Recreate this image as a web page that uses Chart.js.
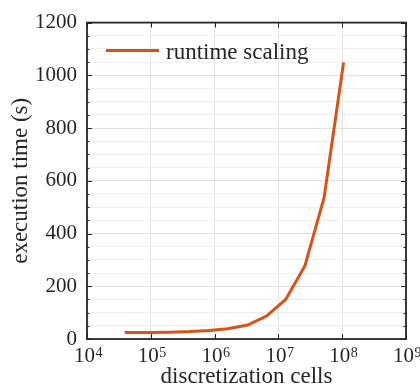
<!DOCTYPE html>
<html>
<head>
<meta charset="utf-8">
<script src="https://cdn.jsdelivr.net/npm/chart.js@4/dist/chart.umd.min.js"></script>
<style>
  html, body { margin: 0; padding: 0; background: #fff; }
  canvas { display: block; }
</style>
</head>
<body>
<canvas id="scalingChart" width="420" height="388"></canvas>
<script>
// data
const cells = [3.9e4, 1e5, 2e5, 4.1e5, 8.2e5, 1.6e6, 3.3e6, 6.5e6, 1.3e7, 2.6e7, 5.2e7, 1.05e8];
const runtime = [25, 25, 26, 28, 32, 39, 53, 87, 150, 277, 536, 1049];
const xTicks = [1e4, 1e5, 1e6, 1e7, 1e8, 1e9];
const yTickLabels = [0, 200, 400, 600, 800, 1000, 1200];

const FONT = "'Liberation Serif', 'Times New Roman', serif";
const INK = '#262626';
const LINE = '#D95319';

const points = cells.map((c, i) => ({ x: c, y: runtime[i] }));

// box, inward ticks, 10^n labels and the legend
const framePlugin = {
    id: 'frame',
    afterDraw(chart) {
        const { ctx, chartArea: a, scales } = chart;
        const xs = scales.x, ys = scales.y;
        ctx.save();
        ctx.strokeStyle = INK;

        ctx.lineWidth = 1;
        ctx.beginPath();
        for (let v = 0; v <= 1200; v += 50) {
            const py = Math.round(ys.getPixelForValue(v)) + 0.5;
            const len = v % 200 === 0 ? 5 : 2.5;
            ctx.moveTo(a.left, py); ctx.lineTo(a.left + len, py);
            ctx.moveTo(a.right, py); ctx.lineTo(a.right - len, py);
        }
        xTicks.forEach((v) => {
            const px = Math.round(xs.getPixelForValue(v)) + 0.5;
            ctx.moveTo(px, a.bottom); ctx.lineTo(px, a.bottom - 5);
            ctx.moveTo(px, a.top); ctx.lineTo(px, a.top + 5);
        });
        ctx.stroke();

        ctx.lineWidth = 1.8;
        ctx.strokeRect(a.left, a.top, a.right - a.left, a.bottom - a.top);

        // tick labels with superscript exponent
        ctx.fillStyle = INK;
        ctx.textBaseline = 'alphabetic';
        ctx.textAlign = 'left';
        xTicks.forEach((v) => {
            const px = xs.getPixelForValue(v);
            const exp = String(Math.round(Math.log10(v)));
            ctx.font = '21px ' + FONT;
            const wBase = ctx.measureText('10').width;
            ctx.font = '14px ' + FONT;
            const wExp = ctx.measureText(exp).width;
            const x0 = px - (wBase + wExp) / 2 + 1;
            ctx.font = '21px ' + FONT;
            ctx.fillText('10', x0, a.bottom + 23);
            ctx.font = '14px ' + FONT;
            ctx.fillText(exp, x0 + wBase + 0.5, a.bottom + 18);
        });

        // legend (no box), top-left inside the axes
        const ds = chart.data.datasets[0];
        ctx.strokeStyle = ds.borderColor;
        ctx.lineWidth = 3;
        ctx.beginPath();
        ctx.moveTo(a.left + 19, a.top + 28);
        ctx.lineTo(a.left + 72, a.top + 28);
        ctx.stroke();
        ctx.font = '23px ' + FONT;
        ctx.fillText(ds.label, a.left + 79, a.top + 36);
        ctx.restore();
    }
};

new Chart(document.getElementById('scalingChart'), {
    type: 'line',
    data: {
        datasets: [{
            label: 'runtime scaling',
            data: points,
            borderColor: LINE,
            backgroundColor: LINE,
            borderWidth: 3,
            pointRadius: 0,
            tension: 0
        }]
    },
    options: {
        responsive: false,
        animation: false,
        layout: { padding: { top: 21, right: 14, left: 0, bottom: 0 } },
        plugins: {
            tooltip: { enabled: false },
            legend: { display: false }
        },
        scales: {
            x: {
                type: 'logarithmic',
                min: 1e4,
                max: 1e9,
                afterBuildTicks: (scale) => { scale.ticks = xTicks.map((v) => ({ value: v })); },
                afterFit: (scale) => { scale.height = 49; },
                ticks: { callback: () => '', autoSkip: false },
                grid: { color: '#e3e3e3', drawTicks: false },
                border: { display: false },
                title: {
                    display: true,
                    text: 'discretization cells',
                    color: INK,
                    font: { family: FONT, size: 23, lineHeight: 1 },
                    padding: { top: 0, bottom: 0 }
                }
            },
            y: {
                min: 0,
                max: 1200,
                afterFit: (scale) => { scale.width = 87; },
                ticks: {
                    stepSize: 50,
                    autoSkip: false,
                    padding: 10,
                    color: INK,
                    font: { family: FONT, size: 21 },
                    callback: (v) => yTickLabels.includes(v) ? String(v) : ''
                },
                grid: {
                    drawTicks: false,
                    color: (c) => (c.tick && c.tick.value % 200 === 0) ? '#e0e0e0' : '#efefef'
                },
                border: { display: false },
                title: {
                    display: true,
                    text: 'execution time (s)',
                    color: INK,
                    font: { family: FONT, size: 23, lineHeight: 1 },
                    padding: { top: 9, bottom: 0 }
                }
            }
        }
    },
    plugins: [framePlugin]
});
</script>
</body>
</html>
